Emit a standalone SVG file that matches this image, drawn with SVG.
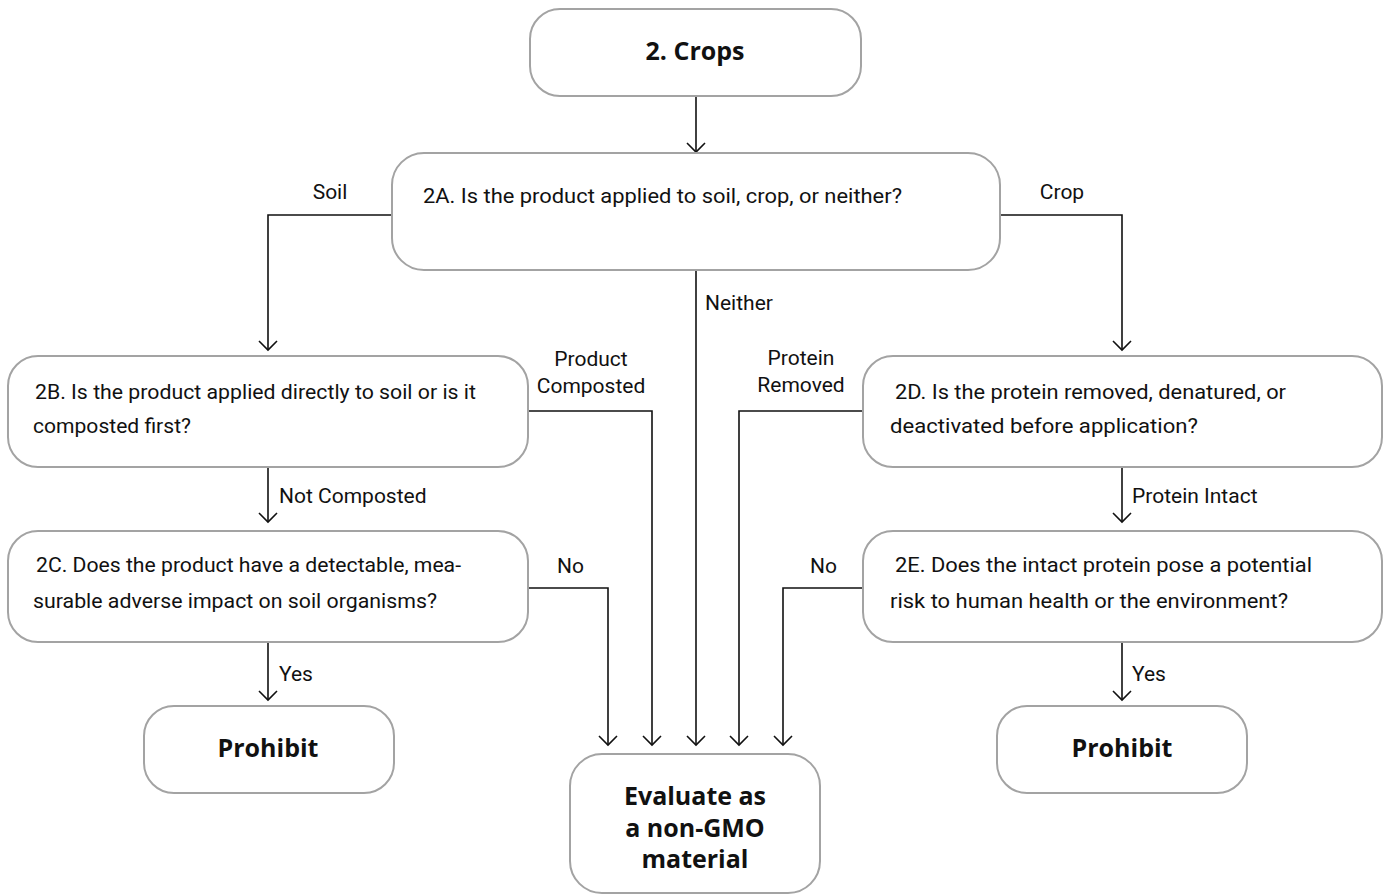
<svg xmlns="http://www.w3.org/2000/svg" width="1388" height="895" viewBox="0 0 1388 895">
<style>
.box{fill:#fff;stroke:#a3a3a3;stroke-width:2}
.q{font-family:Roboto,"Liberation Sans",sans-serif;font-size:21px;fill:#111}
.lbl{font-family:Roboto,"Liberation Sans",sans-serif;font-size:21px;fill:#111}
.t{font-family:"Open Sans","Noto Sans",sans-serif;font-weight:700;font-size:25px;fill:#111;text-anchor:middle}
.c{fill:none;stroke:#111;stroke-width:1.6}
</style>
<defs>
<marker id="arr" markerUnits="userSpaceOnUse" markerWidth="24" markerHeight="24" refX="0" refY="0" viewBox="-12 -12 24 24" orient="auto" overflow="visible">
<path d="M-9,-9 L0,0 L-9,9" fill="none" stroke="#111" stroke-width="1.6"/>
</marker>
</defs>
<rect width="1388" height="895" fill="#fff"/>
<g id="connectors">
<path class="c" d="M696,97 V152" marker-end="url(#arr)"/>
<path class="c" d="M392,215 H268 V350" marker-end="url(#arr)"/>
<path class="c" d="M1000,215 H1122 V350" marker-end="url(#arr)"/>
<path class="c" d="M696,270 V745" marker-end="url(#arr)"/>
<path class="c" d="M528,411 H652 V745" marker-end="url(#arr)"/>
<path class="c" d="M863,411 H739 V745" marker-end="url(#arr)"/>
<path class="c" d="M268,467 V522" marker-end="url(#arr)"/>
<path class="c" d="M1122,467 V522" marker-end="url(#arr)"/>
<path class="c" d="M528,588 H608 V745" marker-end="url(#arr)"/>
<path class="c" d="M863,588 H783 V745" marker-end="url(#arr)"/>
<path class="c" d="M268,642 V700" marker-end="url(#arr)"/>
<path class="c" d="M1122,642 V700" marker-end="url(#arr)"/>
<text class="lbl" x="330" y="199" text-anchor="middle">Soil</text>
<text class="lbl" x="1062" y="199" text-anchor="middle">Crop</text>
<text class="lbl" x="705" y="310">Neither</text>
<text class="lbl" x="591" y="366" text-anchor="middle">Product</text>
<text class="lbl" x="591" y="393" text-anchor="middle">Composted</text>
<text class="lbl" x="801" y="365" text-anchor="middle">Protein</text>
<text class="lbl" x="801" y="392" text-anchor="middle">Removed</text>
<text class="lbl" x="279" y="503">Not Composted</text>
<text class="lbl" x="1132" y="503">Protein Intact</text>
<text class="lbl" x="557" y="573">No</text>
<text class="lbl" x="810" y="573">No</text>
<text class="lbl" x="279" y="681">Yes</text>
<text class="lbl" x="1132" y="681">Yes</text>
</g>
<g id="crops">
<rect class="box" x="530" y="9" width="331" height="87" rx="30"/>
<text class="t" x="695" y="60">2. Crops</text>
</g>
<g id="q2a">
<rect class="box" x="392" y="153" width="608" height="117" rx="32"/>
<text class="q" x="423" y="203" textLength="479" lengthAdjust="spacingAndGlyphs">2A. Is the product applied to soil, crop, or neither?</text>
</g>
<g id="q2b">
<rect class="box" x="8" y="356" width="520" height="111" rx="30"/>
<text class="q" x="35" y="399" textLength="441" lengthAdjust="spacingAndGlyphs">2B. Is the product applied directly to soil or is it</text>
<text class="q" x="33" y="433" textLength="158" lengthAdjust="spacingAndGlyphs">composted first?</text>
</g>
<g id="q2c">
<rect class="box" x="8" y="531" width="520" height="111" rx="30"/>
<text class="q" x="36" y="572" textLength="425" lengthAdjust="spacingAndGlyphs">2C. Does the product have a detectable, mea-</text>
<text class="q" x="33" y="608" textLength="404" lengthAdjust="spacingAndGlyphs">surable adverse impact on soil organisms?</text>
</g>
<g id="q2d">
<rect class="box" x="863" y="356" width="519" height="111" rx="30"/>
<text class="q" x="895" y="399" textLength="391" lengthAdjust="spacingAndGlyphs">2D. Is the protein removed, denatured, or</text>
<text class="q" x="890" y="433" textLength="308" lengthAdjust="spacingAndGlyphs">deactivated before application?</text>
</g>
<g id="q2e">
<rect class="box" x="863" y="531" width="519" height="111" rx="30"/>
<text class="q" x="895" y="572" textLength="417" lengthAdjust="spacingAndGlyphs">2E. Does the intact protein pose a potential</text>
<text class="q" x="890" y="608" textLength="398" lengthAdjust="spacingAndGlyphs">risk to human health or the environment?</text>
</g>
<g id="prohibit-left">
<rect class="box" x="144" y="706" width="250" height="87" rx="30"/>
<text class="t" x="268" y="757" font-size="26">Prohibit</text>
</g>
<g id="prohibit-right">
<rect class="box" x="997" y="706" width="250" height="87" rx="30"/>
<text class="t" x="1122" y="757" font-size="26">Prohibit</text>
</g>
<g id="evaluate">
<rect class="box" x="570" y="754" width="250" height="139" rx="32"/>
<text class="t" x="695" y="805">Evaluate as</text>
<text class="t" x="695" y="837">a non-GMO</text>
<text class="t" x="695" y="868">material</text>
</g>
</svg>
